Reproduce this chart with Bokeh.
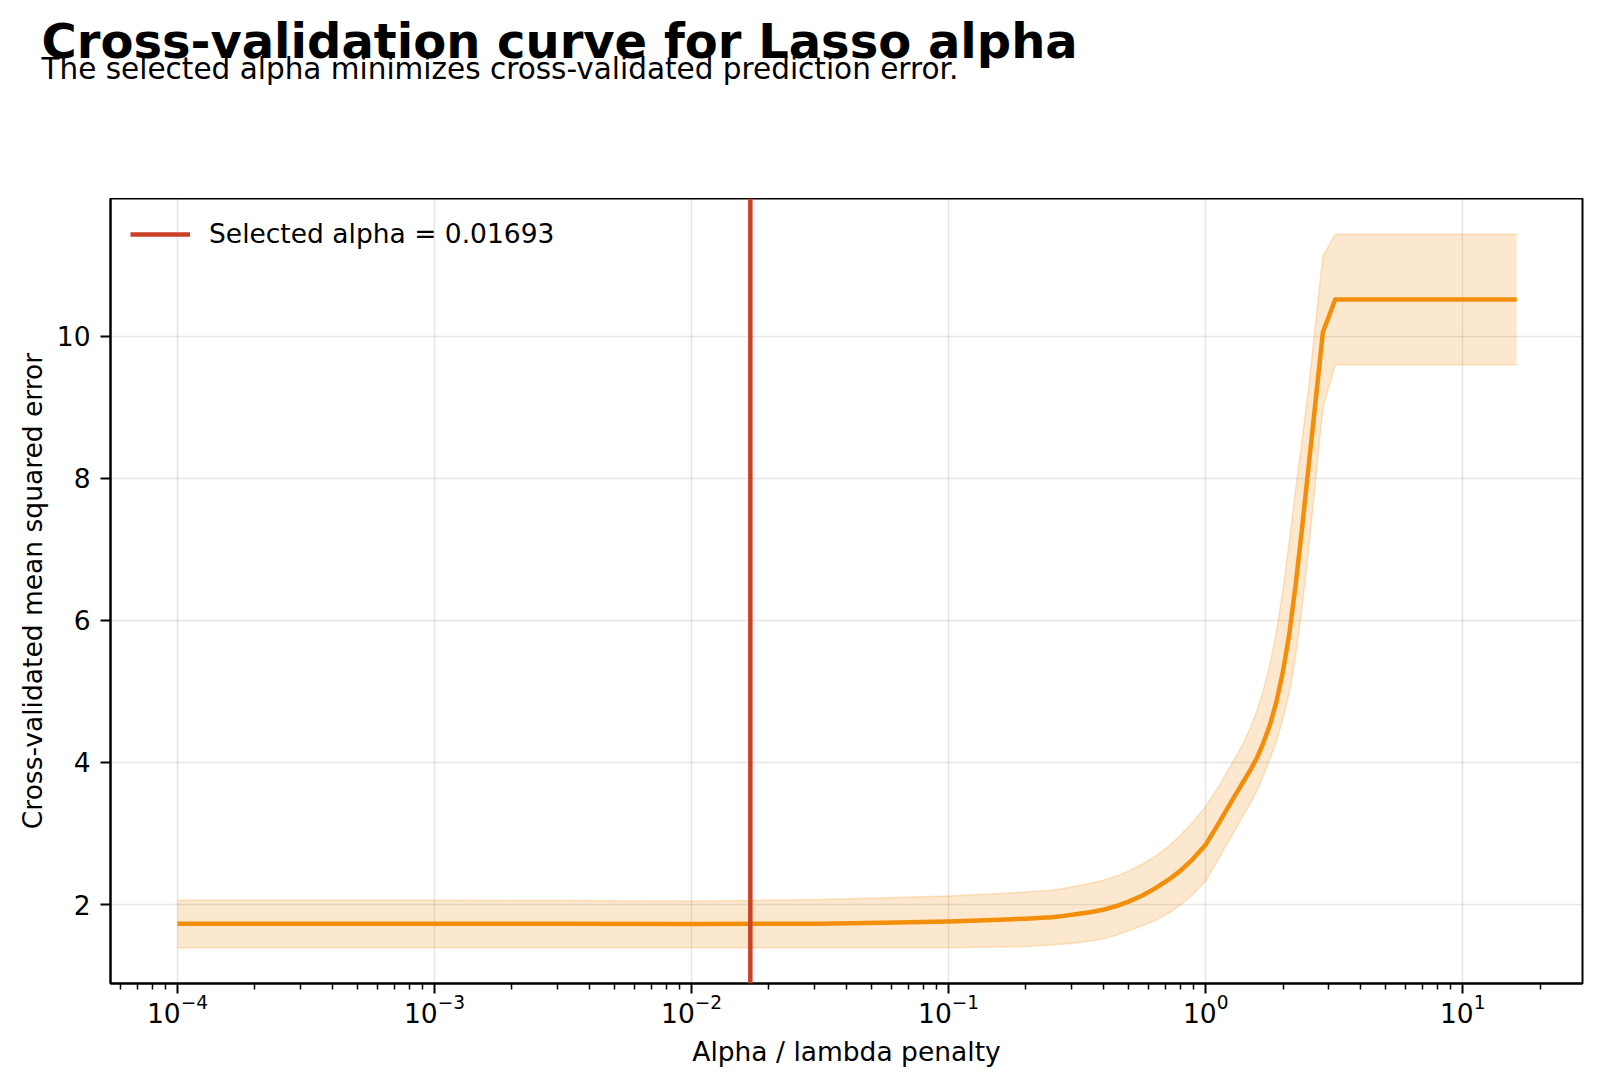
from bokeh.plotting import figure
from bokeh.layouts import column
from bokeh.models import Range1d, FixedTicker, Span, Label, Legend, LegendItem, ColumnDataSource
from bokeh.embed import file_html
from bokeh.resources import INLINE

# ---------------- data ----------------
alphas = [0.0001, 0.000316, 0.001, 0.00316, 0.01, 0.0316, 0.0631, 0.1, 0.1585, 0.1995,
          0.2512, 0.2818, 0.3162, 0.3548, 0.3981, 0.4467, 0.5012, 0.5623, 0.6310,
          0.7079, 0.7943, 0.8913, 1.0,
          1.0593, 1.1220, 1.1885, 1.2589, 1.3335, 1.4125, 1.4962, 1.5849, 1.6788,
          1.7783, 1.8836, 1.9953, 2.1135, 2.2387, 2.3714, 2.5119, 2.6607,
          2.8576, 3.1915, 16.218]
mse_mean = [1.73, 1.73, 1.73, 1.728, 1.725, 1.73, 1.745, 1.76, 1.785, 1.80,
            1.82, 1.84, 1.865, 1.89, 1.925, 1.975, 2.04, 2.12, 2.22, 2.335,
            2.47, 2.64, 2.84,
            2.99, 3.14, 3.295, 3.45, 3.60, 3.75, 3.90, 4.07, 4.28,
            4.53, 4.85, 5.27, 5.80, 6.50, 7.30, 8.15, 9.00,
            10.06, 10.52, 10.52]
mse_upper = [2.06, 2.06, 2.06, 2.055, 2.05, 2.07, 2.10, 2.12, 2.155, 2.175,
             2.20, 2.23, 2.26, 2.30, 2.34, 2.40, 2.47, 2.56, 2.67, 2.80,
             2.97, 3.16, 3.38,
             3.52, 3.66, 3.815, 3.97, 4.13, 4.30, 4.50, 4.73, 5.03,
             5.38, 5.83, 6.42, 7.10, 7.85, 8.55, 9.25, 10.10,
             11.13, 11.44, 11.44]
mse_lower = [1.39, 1.39, 1.39, 1.39, 1.39, 1.39, 1.39, 1.39, 1.40, 1.41,
             1.43, 1.445, 1.46, 1.485, 1.515, 1.565, 1.63, 1.695, 1.77, 1.865,
             1.99, 2.14, 2.33,
             2.49, 2.64, 2.805, 2.96, 3.12, 3.28, 3.43, 3.61, 3.82,
             4.05, 4.30, 4.61, 4.98, 5.50, 6.18, 6.98, 7.88,
             8.99, 9.60, 9.60]
selected_alpha = 0.01693
x_ticks = [1e-4, 1e-3, 1e-2, 1e-1, 1e0, 1e1]
y_ticks = [2, 4, 6, 8, 10]

title_text = "Cross-validation curve for Lasso alpha"
subtitle_text = "The selected alpha minimizes cross-validated prediction error."
x_label = "Alpha / lambda penalty"
y_label = "Cross-validated mean squared error"
legend_text = "Selected alpha = 0.01693"

# ---------------- styling ----------------
FONT = "DejaVu Sans"
ORANGE = "#F28E0A"
RED = "#CC4125"
HEADER_H = 198

# header with title and subtitle (its frame covers the whole header)
head = figure(width=1600, height=HEADER_H, x_range=Range1d(0, 1600),
              y_range=Range1d(HEADER_H, 0), min_border=0,
              x_axis_location=None, y_axis_location=None,
              title_location=None, frame_align=False,
              output_backend="svg", toolbar_location=None)
head.grid.visible = False
head.outline_line_color = None
head.add_layout(Label(x=41, y=40, text=title_text, text_font=FONT,
                      text_font_size="48px", text_font_style="bold",
                      text_color="black", text_baseline="alphabetic"))
head.add_layout(Label(x=41, y=68, text=subtitle_text, text_font=FONT,
                      text_font_size="29.5px", text_color="black",
                      text_baseline="alphabetic"))

p = figure(width=1600, height=1086 - HEADER_H, x_axis_type="log",
           x_range=Range1d(10 ** -4.2605, 10 ** 1.466),
           y_range=Range1d(0.8875, 11.9425),
           output_backend="svg", toolbar_location=None,
           title_location=None, frame_align=False,
           min_border_left=110, min_border_right=18,
           min_border_top=0, min_border_bottom=103)

src = ColumnDataSource(dict(a=alphas, m=mse_mean, u=mse_upper, l=mse_lower))

p.varea(x="a", y1="l", y2="u", source=src, fill_color=ORANGE, fill_alpha=0.2)
p.line(x="a", y="u", source=src, line_color=ORANGE, line_alpha=0.22, line_width=1.5)
p.line(x="a", y="l", source=src, line_color=ORANGE, line_alpha=0.22, line_width=1.5)
p.line(x="a", y="m", source=src, line_color=ORANGE, line_width=4.5, line_join="round")

vline = Span(location=selected_alpha, dimension="height", line_color=RED, line_width=4.5)
p.add_layout(vline)
legend_proxy = p.line(x=[selected_alpha, selected_alpha], y=[float("nan"), float("nan")],
                      line_color=RED, line_width=4.5)

legend = Legend(items=[LegendItem(label=legend_text, renderers=[legend_proxy])],
                location="top_left", margin=20, padding=10,
                glyph_width=60, glyph_height=30, label_height=30,
                label_standoff=19, spacing=0,
                background_fill_alpha=0, border_line_color=None,
                label_text_font=FONT, label_text_font_size="26.5px",
                label_text_color="black")
p.add_layout(legend)

# axes
minor = [m * 10.0 ** k for k in range(-5, 2) for m in range(2, 10)]
p.xaxis.ticker = FixedTicker(ticks=x_ticks, minor_ticks=minor)
p.yaxis.ticker = FixedTicker(ticks=y_ticks)
for ax in (p.xaxis, p.yaxis):
    ax.axis_line_color = "black"
    ax.axis_line_width = 2
    ax.major_tick_line_color = "black"
    ax.major_tick_line_width = 2
    ax.major_tick_in = 0
    ax.major_tick_out = 10
    ax.minor_tick_in = 0
    ax.major_label_text_font = FONT
    ax.major_label_text_font_size = "26.5px"
    ax.major_label_text_color = "black"
    ax.axis_label_text_font = FONT
    ax.axis_label_text_font_size = "26.5px"
    ax.axis_label_text_font_style = "normal"
    ax.axis_label_text_color = "black"
p.xaxis.minor_tick_line_color = "black"
p.xaxis.minor_tick_line_width = 1.5
p.xaxis.minor_tick_out = 6
p.yaxis.minor_tick_line_color = None
p.xaxis.axis_label = x_label
p.yaxis.axis_label = y_label
p.xaxis.major_label_standoff = 0
p.yaxis.major_label_standoff = 10
p.xaxis.axis_label_standoff = 10
p.yaxis.axis_label_standoff = 6

p.grid.grid_line_color = "#000000"
p.grid.grid_line_alpha = 0.1
p.grid.grid_line_width = 1.5
p.xgrid.ticker = FixedTicker(ticks=x_ticks)
p.ygrid.ticker = FixedTicker(ticks=y_ticks)

p.outline_line_color = "black"
p.outline_line_width = 2
p.outline_line_alpha = 1
p.background_fill_color = "white"
p.border_fill_color = "white"

layout = column(head, p, spacing=0)
open("out.html", "w").write(file_html(layout, INLINE))
